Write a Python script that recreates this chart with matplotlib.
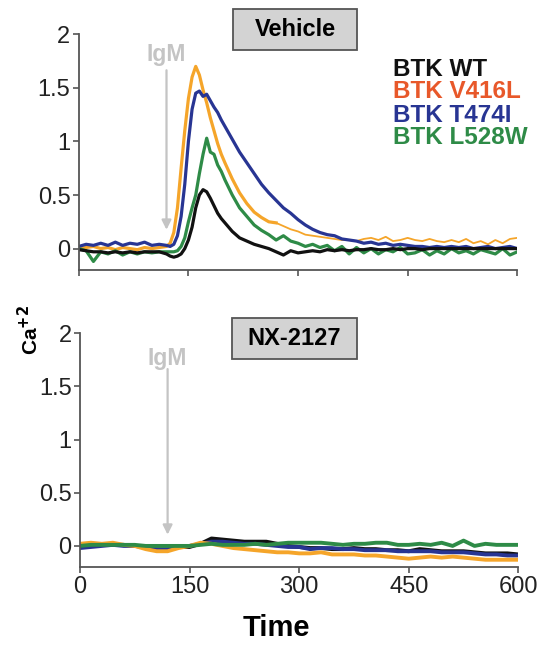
import matplotlib
matplotlib.use('Agg')
import matplotlib.pyplot as plt
from matplotlib.patches import Rectangle
from matplotlib.ticker import FuncFormatter

plt.rcParams['font.family'] = ['Liberation Sans', 'DejaVu Sans']

# Vehicle panel (dense sampling around the peak)
t_veh = [0, 10, 20, 30, 40, 50, 60, 70, 80, 90, 100, 110, 120,
         125, 130, 135, 140, 145, 150, 155, 160, 165, 170, 175, 180, 185, 190, 195,
         200, 210, 220, 230, 240, 250, 260, 270, 280, 290, 300, 310, 320, 330, 340,
         350, 360, 370, 380, 390, 400, 410, 420, 430, 440, 450, 460, 470, 480, 490,
         500, 510, 520, 530, 540, 550, 560, 570, 580, 590, 600]

veh_wt = [-0.01, -0.02, -0.03, -0.03, -0.04, -0.03, -0.04, -0.03, -0.04, -0.03, -0.03, -0.03, -0.05,
          -0.07, -0.08, -0.07, -0.05, 0.0, 0.08, 0.20, 0.38, 0.50, 0.55, 0.53, 0.47, 0.40, 0.33, 0.28,
          0.24, 0.16, 0.10, 0.07, 0.04, 0.02, 0.0, -0.03, -0.06, -0.02, -0.04, -0.03, -0.02, -0.03, -0.01,
          -0.02, -0.01, -0.02, -0.01, -0.01, 0.0, -0.01, -0.01, 0.0, -0.01, 0.0, 0.0, -0.01, 0.0, 0.0,
          0.0, 0.0, 0.0, 0.0, 0.0, 0.0, 0.0, 0.0, 0.0, 0.0, 0.0]

veh_v416l = [0.0, 0.01, 0.02, 0.0, 0.01, -0.01, 0.01, 0.0, -0.01, 0.01, 0.0, 0.01, 0.02,
             0.05, 0.15, 0.38, 0.75, 1.10, 1.40, 1.60, 1.70, 1.62, 1.48, 1.36, 1.22, 1.10, 0.98, 0.88,
             0.80, 0.65, 0.52, 0.42, 0.34, 0.29, 0.25, 0.24, 0.21, 0.18, 0.16, 0.13, 0.12, 0.11, 0.10,
             0.09, 0.08, 0.08, 0.07, 0.09, 0.10, 0.08, 0.11, 0.07, 0.08, 0.10, 0.08, 0.07, 0.09, 0.07,
             0.06, 0.08, 0.06, 0.09, 0.05, 0.07, 0.04, 0.08, 0.05, 0.09, 0.10]

veh_t474i = [0.02, 0.04, 0.03, 0.05, 0.03, 0.06, 0.03, 0.05, 0.04, 0.06, 0.03, 0.04, 0.03,
             0.02, 0.04, 0.12, 0.30, 0.60, 1.00, 1.30, 1.45, 1.47, 1.42, 1.44, 1.38, 1.32, 1.27, 1.20,
             1.14, 1.02, 0.90, 0.80, 0.70, 0.60, 0.52, 0.45, 0.38, 0.33, 0.27, 0.22, 0.18, 0.15, 0.13,
             0.12, 0.09, 0.08, 0.07, 0.05, 0.06, 0.04, 0.05, 0.03, 0.04, 0.03, 0.02, 0.02, 0.01, 0.02,
             0.01, 0.02, 0.01, 0.02, 0.0, 0.01, 0.02, 0.0, 0.01, 0.02, 0.0]

veh_l528w = [0.0, -0.02, -0.12, -0.03, -0.05, -0.02, -0.06, -0.03, -0.05, -0.03, -0.04, -0.03, -0.03,
             -0.03, -0.03, -0.02, 0.02, 0.10, 0.25, 0.38, 0.50, 0.70, 0.88, 1.03, 0.90, 0.88, 0.78, 0.72,
             0.64, 0.50, 0.38, 0.30, 0.22, 0.17, 0.13, 0.08, 0.12, 0.07, 0.05, 0.02, 0.04, 0.01, 0.03,
             -0.02, 0.02, -0.05, 0.01, -0.04, 0.0, -0.05, -0.01, -0.03, 0.01, -0.05, -0.04, -0.01, -0.06, -0.02,
             -0.05, 0.0, -0.04, -0.02, -0.05, -0.01, -0.03, -0.05, 0.0, -0.06, -0.03]

# NX-2127 panel
t_nx = [0, 15, 30, 45, 60, 75, 90, 105, 120, 135, 150, 165, 180, 195, 210, 225, 240, 255, 270, 285,
        300, 315, 330, 345, 360, 375, 390, 405, 420, 435, 450, 465, 480, 495, 510, 525, 540, 555, 570, 585, 600]

nx_wt = [-0.01, 0.0, 0.01, 0.01, 0.01, 0.0, -0.01, -0.04, -0.04, -0.01, -0.01, 0.02, 0.07, 0.06, 0.05, 0.04,
         0.04, 0.04, 0.02, 0.0, -0.01, -0.02, -0.02, -0.03, -0.03, -0.02, -0.03, -0.03, -0.04, -0.04, -0.05,
         -0.03, -0.04, -0.05, -0.05, -0.05, -0.06, -0.07, -0.07, -0.07, -0.08]

nx_v416l = [0.02, 0.03, 0.02, 0.03, 0.01, 0.0, -0.03, -0.05, -0.05, -0.02, 0.0, 0.03, 0.02, 0.0, -0.02, -0.03,
            -0.04, -0.05, -0.06, -0.06, -0.07, -0.07, -0.06, -0.08, -0.08, -0.08, -0.09, -0.09, -0.10, -0.11,
            -0.12, -0.11, -0.10, -0.11, -0.10, -0.11, -0.12, -0.13, -0.13, -0.13, -0.13]

nx_t474i = [-0.02, -0.01, 0.0, 0.01, 0.0, 0.0, -0.01, -0.03, -0.03, -0.01, 0.0, 0.02, 0.04, 0.04, 0.03, 0.02,
            0.02, 0.01, 0.0, -0.01, -0.01, -0.03, -0.02, -0.02, -0.03, -0.03, -0.04, -0.04, -0.04, -0.05,
            -0.05, -0.05, -0.05, -0.06, -0.06, -0.06, -0.07, -0.08, -0.08, -0.09, -0.09]

nx_l528w = [0.0, 0.01, 0.01, 0.01, 0.01, 0.01, 0.0, 0.0, 0.0, 0.0, 0.0, 0.01, 0.02, 0.01, 0.01, 0.01,
            0.02, 0.01, 0.02, 0.03, 0.03, 0.03, 0.03, 0.02, 0.01, 0.02, 0.02, 0.03, 0.03, 0.01, 0.01,
            0.02, 0.01, 0.03, 0.0, 0.05, 0.0, 0.02, 0.01, 0.01, 0.01]

labels = ['BTK WT', 'BTK V416L', 'BTK T474I', 'BTK L528W']
label_colors = ['#111111', '#e8582a', '#283593', '#2e8b47']
line_colors = {'wt': '#111111', 'v416l': '#f5a52a', 't474i': '#283593', 'l528w': '#2e8b47'}

igm_time = 120
spine_col = '#555555'
W, H = 555, 646

fig = plt.figure(figsize=(5.55, 6.46), dpi=100)
ax1 = fig.add_axes([0.142, 0.582, 0.790, 0.365])
ax2 = fig.add_axes([0.144, 0.122, 0.790, 0.362])


def style(ax, show_xlabels):
    ax.set_xlim(0, 600)
    ax.set_ylim(-0.2, 2)
    for s in ('top', 'right'):
        ax.spines[s].set_visible(False)
    for s in ('left', 'bottom'):
        ax.spines[s].set_color(spine_col)
        ax.spines[s].set_linewidth(1.3)
    ax.set_xticks([0, 150, 300, 450, 600])
    ax.set_yticks([0, 0.5, 1, 1.5, 2])
    ax.yaxis.set_major_formatter(FuncFormatter(lambda v, p: '%g' % v))
    ax.tick_params(direction='out', length=4, width=1.2, color=spine_col,
                   labelsize=17, labelcolor='#222222', pad=2)
    if not show_xlabels:
        ax.tick_params(axis='x', labelbottom=False)


lw = 2.3
# orange trace is drawn thinner after the decay phase, as in the original
cut = t_veh.index(270)
ax1.plot(t_veh[:cut + 1], veh_v416l[:cut + 1], color=line_colors['v416l'], lw=lw)
ax1.plot(t_veh[cut:], veh_v416l[cut:], color=line_colors['v416l'], lw=1.3)
ax1.plot(t_veh, veh_t474i, color=line_colors['t474i'], lw=lw)
ax1.plot(t_veh, veh_l528w, color=line_colors['l528w'], lw=lw)
ax1.plot(t_veh, veh_wt, color=line_colors['wt'], lw=lw)
style(ax1, False)

ax2.plot(t_nx, nx_wt, color=line_colors['wt'], lw=lw + 0.5)
ax2.plot(t_nx, nx_t474i, color=line_colors['t474i'], lw=lw + 0.5)
ax2.plot(t_nx, nx_v416l, color=line_colors['v416l'], lw=lw + 0.5)
ax2.plot(t_nx, nx_l528w, color=line_colors['l528w'], lw=lw + 0.5)
style(ax2, True)

# IgM arrows
for ax, ytip, ytxt in ((ax1, 0.15, 1.81), (ax2, 0.08, 1.76)):
    ax.annotate('', xy=(igm_time, ytip), xytext=(igm_time, 1.69),
                arrowprops=dict(arrowstyle='-|>', color='#c4c4c4', lw=1.6, mutation_scale=14))
    ax.text(igm_time, ytxt, 'IgM', color='#c4c4c4', fontsize=16.5, fontweight='bold',
            ha='center', va='center')

# panel titles in grey boxes
for name, (x0, y0, x1, y1) in (('Vehicle', (233, 9, 357, 50)), ('NX-2127', (232, 318, 357, 359))):
    fig.patches.append(Rectangle((x0 / W, 1 - y1 / H), (x1 - x0) / W, (y1 - y0) / H,
                                 transform=fig.transFigure, facecolor='#d3d3d3',
                                 edgecolor='#555555', lw=1.3))
    fig.text((x0 + x1) / 2 / W, 1 - (y0 + y1) / 2 / H, name, fontsize=17, fontweight='bold',
             ha='center', va='center')

# legend as coloured text
for i, (lab, col) in enumerate(zip(labels, label_colors)):
    fig.text(393 / W, 1 - (69 + i * 23) / H, lab, color=col, fontsize=17.5,
             fontweight='bold', ha='left', va='center')

fig.text(30 / W, 1 - 330 / H, 'Ca$^{\\mathbf{+2}}$', fontsize=15, fontweight='bold',
         rotation=90, ha='center', va='center')
fig.text(276 / W, 1 - 628 / H, 'Time', fontsize=21, fontweight='bold',
         ha='center', va='center')

fig.savefig('out.png', dpi=100)
